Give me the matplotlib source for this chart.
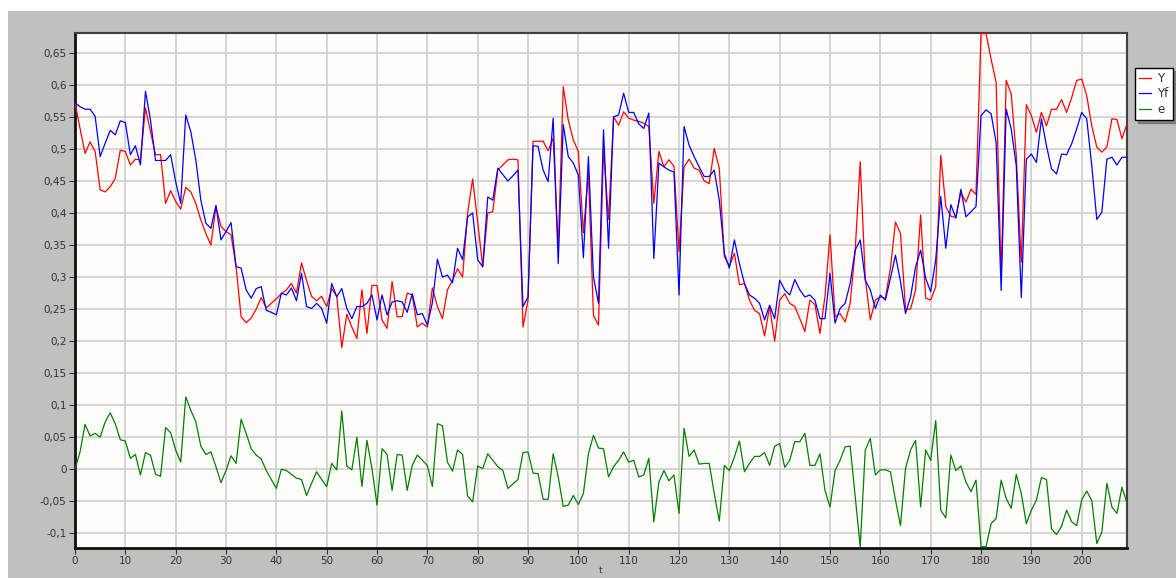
import numpy as np
import matplotlib
matplotlib.use("Agg")
import matplotlib.pyplot as plt
from matplotlib.ticker import MultipleLocator, FuncFormatter
from matplotlib.patches import Rectangle

t = np.arange(210)

Y = [0.572, 0.532, 0.493, 0.511, 0.496, 0.436, 0.433, 0.441, 0.454, 0.498,
     0.496, 0.475, 0.484, 0.483, 0.564, 0.527, 0.491, 0.491, 0.415, 0.435,
     0.418, 0.406, 0.440, 0.433, 0.415, 0.389, 0.368, 0.350, 0.410, 0.379,
     0.371, 0.366, 0.316, 0.238, 0.229, 0.236, 0.250, 0.268, 0.252, 0.259,
     0.266, 0.274, 0.280, 0.290, 0.275, 0.322, 0.295, 0.270, 0.263, 0.270,
     0.254, 0.282, 0.270, 0.190, 0.242, 0.222, 0.204, 0.280, 0.212, 0.287,
     0.287, 0.233, 0.220, 0.293, 0.238, 0.238, 0.275, 0.272, 0.222, 0.228,
     0.222, 0.283, 0.254, 0.235, 0.280, 0.295, 0.313, 0.300, 0.400, 0.453,
     0.386, 0.316, 0.400, 0.402, 0.467, 0.475, 0.483, 0.484, 0.483, 0.222,
     0.264, 0.512, 0.512, 0.512, 0.497, 0.517, 0.345, 0.597, 0.545, 0.514,
     0.496, 0.369, 0.462, 0.240, 0.225, 0.500, 0.390, 0.550, 0.537, 0.558,
     0.548, 0.545, 0.543, 0.540, 0.535, 0.415, 0.496, 0.472, 0.483, 0.473,
     0.340, 0.472, 0.484, 0.470, 0.467, 0.450, 0.446, 0.501, 0.470, 0.332,
     0.317, 0.337, 0.288, 0.290, 0.264, 0.248, 0.243, 0.208, 0.254, 0.200,
     0.264, 0.274, 0.259, 0.254, 0.235, 0.215, 0.264, 0.257, 0.212, 0.270,
     0.366, 0.238, 0.243, 0.230, 0.259, 0.342, 0.480, 0.298, 0.233, 0.264,
     0.269, 0.267, 0.314, 0.386, 0.368, 0.250, 0.250, 0.280, 0.397, 0.267,
     0.264, 0.285, 0.490, 0.410, 0.395, 0.393, 0.432, 0.417, 0.437, 0.429,
     0.680, 0.680, 0.640, 0.604, 0.300, 0.607, 0.586, 0.490, 0.323, 0.569,
     0.552, 0.526, 0.557, 0.536, 0.562, 0.562, 0.577, 0.557, 0.580, 0.607,
     0.609, 0.583, 0.536, 0.503, 0.495, 0.503, 0.547, 0.546, 0.516, 0.539]

Yf = [0.572, 0.566, 0.562, 0.562, 0.551, 0.488, 0.509, 0.529, 0.522, 0.544,
      0.541, 0.491, 0.505, 0.475, 0.590, 0.545, 0.482, 0.482, 0.482, 0.491,
      0.449, 0.415, 0.553, 0.527, 0.483, 0.420, 0.384, 0.376, 0.412, 0.358,
      0.371, 0.385, 0.316, 0.314, 0.280, 0.267, 0.282, 0.285, 0.248, 0.245,
      0.241, 0.275, 0.272, 0.283, 0.263, 0.306, 0.254, 0.251, 0.259, 0.251,
      0.228, 0.290, 0.269, 0.282, 0.251, 0.235, 0.254, 0.254, 0.259, 0.272,
      0.233, 0.272, 0.241, 0.261, 0.263, 0.261, 0.245, 0.274, 0.241, 0.243,
      0.225, 0.260, 0.328, 0.300, 0.303, 0.291, 0.345, 0.327, 0.394, 0.400,
      0.327, 0.316, 0.425, 0.420, 0.470, 0.460, 0.450, 0.458, 0.467, 0.254,
      0.269, 0.505, 0.504, 0.467, 0.449, 0.548, 0.321, 0.538, 0.488, 0.478,
      0.459, 0.330, 0.488, 0.300, 0.259, 0.530, 0.345, 0.550, 0.553, 0.587,
      0.557, 0.557, 0.539, 0.532, 0.556, 0.329, 0.478, 0.472, 0.467, 0.464,
      0.272, 0.535, 0.506, 0.488, 0.472, 0.457, 0.457, 0.467, 0.420, 0.337,
      0.314, 0.358, 0.321, 0.290, 0.272, 0.267, 0.259, 0.233, 0.256, 0.235,
      0.295, 0.280, 0.272, 0.296, 0.280, 0.269, 0.272, 0.264, 0.235, 0.235,
      0.306, 0.228, 0.251, 0.259, 0.290, 0.342, 0.358, 0.295, 0.280, 0.251,
      0.272, 0.264, 0.298, 0.334, 0.293, 0.243, 0.269, 0.316, 0.342, 0.298,
      0.277, 0.327, 0.426, 0.345, 0.413, 0.392, 0.437, 0.394, 0.402, 0.410,
      0.552, 0.561, 0.555, 0.510, 0.279, 0.562, 0.531, 0.474, 0.268, 0.484,
      0.492, 0.479, 0.547, 0.505, 0.469, 0.461, 0.492, 0.491, 0.508, 0.531,
      0.557, 0.547, 0.474, 0.390, 0.401, 0.484, 0.487, 0.475, 0.487, 0.487]

e = [0.000, 0.027, 0.070, 0.052, 0.056, 0.050, 0.074, 0.088, 0.071, 0.046,
     0.044, 0.017, 0.023, -0.009, 0.026, 0.022, -0.008, -0.011, 0.065, 0.057,
     0.030, 0.011, 0.113, 0.092, 0.074, 0.036, 0.023, 0.027, 0.004, -0.021,
     -0.002, 0.021, 0.009, 0.078, 0.056, 0.032, 0.022, 0.016, -0.002, -0.016,
     -0.030, 0.000, -0.002, -0.008, -0.014, -0.016, -0.041, -0.022, -0.004, -0.016,
     -0.027, 0.009, -0.001, 0.091, 0.005, -0.001, 0.050, -0.027, 0.045, 0.001,
     -0.056, 0.032, 0.023, -0.033, 0.023, 0.022, -0.033, 0.006, 0.022, 0.014,
     0.006, -0.027, 0.071, 0.068, 0.011, -0.003, 0.030, 0.023, -0.042, -0.051,
     0.005, 0.001, 0.024, 0.014, 0.004, -0.002, -0.030, -0.023, -0.016, 0.026,
     0.027, -0.006, -0.007, -0.047, -0.047, 0.024, -0.012, -0.058, -0.056, -0.041,
     -0.055, -0.038, 0.024, 0.053, 0.033, 0.032, -0.012, 0.004, 0.014, 0.027,
     0.011, 0.014, -0.012, -0.009, 0.017, -0.082, -0.020, -0.002, -0.018, -0.009,
     -0.069, 0.064, 0.020, 0.030, 0.008, 0.009, 0.009, -0.038, -0.081, 0.006,
     -0.002, 0.019, 0.044, -0.004, 0.009, 0.020, 0.020, 0.026, 0.006, 0.036,
     0.040, 0.003, 0.014, 0.043, 0.043, 0.056, 0.006, 0.006, 0.024, -0.033,
     -0.059, -0.002, 0.014, 0.035, 0.036, -0.043, -0.121, 0.030, 0.048, -0.009,
     -0.001, -0.001, -0.004, -0.048, -0.088, 0.001, 0.030, 0.045, -0.059, 0.030,
     0.014, 0.076, -0.064, -0.076, 0.022, -0.002, 0.005, -0.020, -0.035, -0.017,
     -0.121, -0.121, -0.085, -0.077, -0.017, -0.046, -0.061, -0.008, -0.038, -0.085,
     -0.064, -0.048, -0.013, -0.016, -0.093, -0.102, -0.089, -0.064, -0.082, -0.088,
     -0.048, -0.034, -0.049, -0.116, -0.098, -0.022, -0.059, -0.069, -0.028, -0.053]

series_labels = ["Y", "Yf", "e"]
series_colors = ["#ff0000", "#0000ff", "#008000"]

W, H = 1176, 578
fig = plt.figure(figsize=(W / 100, H / 100), dpi=100, facecolor="white")
fig.patches.append(Rectangle((8 / W, 0), 1, (H - 11) / H, transform=fig.transFigure,
                             facecolor="#c0c0c0", edgecolor="none", zorder=-10))

ax = fig.add_axes([75 / W, (H - 548) / H, (1127 - 75) / W, (548 - 33) / H])
ax.set_facecolor("#fffdf9")

for data, lab, col in zip([Y, Yf, e], series_labels, series_colors):
    ax.plot(t, data, color=col, lw=0.9, label=lab, zorder=3)

ax.set_xlim(0, 209)
ax.set_ylim(-0.123, 0.681)
ax.xaxis.set_major_locator(MultipleLocator(10))
ax.yaxis.set_major_locator(MultipleLocator(0.05))

def fmt(v, pos):
    s = f"{round(v, 3):g}"
    if s == "-0":
        s = "0"
    return s.replace(".", ",")

ax.yaxis.set_major_formatter(FuncFormatter(fmt))
ax.xaxis.set_major_formatter(FuncFormatter(lambda v, p: f"{int(round(v))}"))

ax.grid(True, color="#cfcfcf", lw=1.2, zorder=0)
ax.set_axisbelow(True)

for side in ["left", "bottom"]:
    ax.spines[side].set_color("#101010")
    ax.spines[side].set_linewidth(2.0)
for side in ["top", "right"]:
    ax.spines[side].set_color("#404040")
    ax.spines[side].set_linewidth(1.5)

ax.tick_params(axis="both", labelsize=7.5, colors="#333333", length=4, width=0.8, pad=2)
ax.set_xlabel("t", fontsize=6.5, color="#333333", labelpad=0)

leg = ax.legend(loc="upper left", bbox_to_anchor=(1135 / W, (H - 68) / H),
                bbox_transform=fig.transFigure, fontsize=8.5, frameon=True,
                fancybox=False, shadow=True, handlelength=1.0, handletextpad=0.55,
                borderpad=0.35, labelspacing=0.2, borderaxespad=0)
leg.get_frame().set_edgecolor("#000000")
leg.get_frame().set_linewidth(1.0)
for txt in leg.get_texts():
    txt.set_color("#333333")

fig.savefig("out.png", dpi=100, facecolor="white")
